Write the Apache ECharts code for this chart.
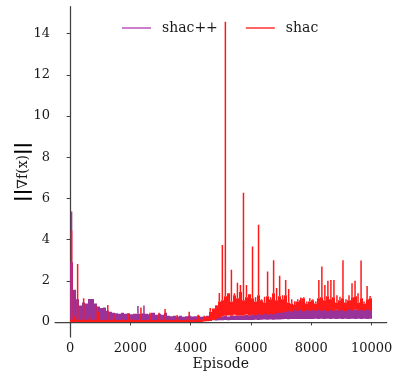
<!DOCTYPE html>
<html>
<head>
<meta charset="utf-8">
<script src="https://cdn.jsdelivr.net/npm/echarts@6/dist/echarts.min.js"></script>
<style>html,body{margin:0;padding:0;background:#fff}#c{width:397px;height:373px}</style>
</head>
<body>
<div id="c"></div>
<script>
// Each bin covers 100 episodes: [i*100, i*100+100]
const episodeStep = 100;
const xTicks = [0, 2000, 4000, 6000, 8000, 10000];
const yTicks = [0, 2, 4, 6, 8, 10, 12, 14];

// shac (red): bottom of band, typical top of band, highest spike in bin
const shacLow = [
  0, 0, 0, 0, 0, 0, 0, 0, 0, 0,
  0, 0, 0, 0, 0, 0, 0, 0, 0, 0,
  0, 0, 0, 0, 0, 0, 0, 0, 0, 0,
  0, 0, 0, 0, 0, 0, 0, 0, 0, 0,
  0, 0, 0, 0, 0.02, 0.03, 0.05, 0.1, 0.15, 0.2,
  0.28, 0.3, 0.32, 0.3, 0.35, 0.3, 0.33, 0.3, 0.36, 0.32,
  0.35, 0.34, 0.38, 0.35, 0.4, 0.36, 0.4, 0.38, 0.42, 0.45,
  0.45, 0.5, 0.55, 0.5, 0.6, 0.55, 0.6, 0.52, 0.58, 0.55,
  0.6, 0.55, 0.62, 0.55, 0.6, 0.52, 0.58, 0.55, 0.6, 0.55,
  0.58, 0.52, 0.6, 0.55, 0.6, 0.55, 0.58, 0.55, 0.6, 0.55
];
const shacBand = [
  0.12, 0.12, 0.12, 0.1, 0.12, 0.1, 0.12, 0.1, 0.12, 0.1,
  0.1, 0.12, 0.1, 0.1, 0.12, 0.1, 0.1, 0.12, 0.1, 0.1,
  0.12, 0.1, 0.1, 0.12, 0.1, 0.1, 0.12, 0.1, 0.1, 0.12,
  0.1, 0.1, 0.12, 0.1, 0.1, 0.12, 0.1, 0.1, 0.12, 0.1,
  0.1, 0.12, 0.1, 0.12, 0.15, 0.25, 0.5, 0.65, 0.8, 1.0,
  1.05, 1.25, 1.4, 1.0, 1.3, 1.15, 1.45, 1.05, 1.2, 1.35,
  1.15, 1.0, 1.3, 1.05, 0.95, 1.25, 1.1, 1.4, 1.05, 1.25,
  1.1, 1.3, 0.95, 0.9, 0.85, 1.0, 1.05, 1.15, 0.9, 1.0,
  1.05, 0.9, 1.15, 1.2, 1.05, 1.25, 1.1, 1.2, 0.95, 1.05,
  1.15, 0.95, 1.05, 1.2, 1.25, 0.95, 1.15, 0.9, 1.1, 1.15
];
const shacPeak = [
  4.44, 0.3, 2.82, 0.1, 1.15, 0.1, 0.3, 0.1, 0.78, 0.5,
  0.1, 0.12, 0.83, 0.1, 0.4, 0.1, 0.1, 0.12, 0.1, 0.4,
  0.12, 0.1, 0.1, 0.7, 0.1, 0.1, 0.45, 0.1, 0.1, 0.45,
  0.1, 0.63, 0.12, 0.1, 0.1, 0.34, 0.1, 0.1, 0.12, 0.5,
  0.1, 0.12, 0.35, 0.12, 0.3, 0.25, 0.68, 0.65, 0.83, 1.41,
  3.74, 14.58, 1.4, 2.53, 1.4, 1.9, 1.8, 6.27, 1.8, 1.35,
  3.66, 1.2, 4.72, 1.1, 1.23, 2.45, 1.2, 3.0, 1.65, 2.24,
  1.3, 2.04, 1.6, 1.1, 0.99, 1.1, 1.17, 1.2, 1.0, 1.15,
  1.1, 1.0, 2.04, 2.69, 1.8, 2.0, 2.04, 2.04, 1.3, 1.23,
  3.0, 1.1, 1.3, 1.88, 2.0, 1.4, 2.98, 1.0, 1.75, 1.26
];

// shac++ (purple)
const shacppLow = [
  0.05, 0.05, 0.06, 0.05, 0.06, 0.05, 0.06, 0.05, 0.06, 0.05,
  0.06, 0.05, 0.06, 0.05, 0.06, 0.05, 0.06, 0.05, 0.06, 0.05,
  0.06, 0.05, 0.06, 0.05, 0.06, 0.05, 0.06, 0.05, 0.06, 0.05,
  0.06, 0.05, 0.06, 0.05, 0.06, 0.05, 0.06, 0.05, 0.06, 0.05,
  0.07, 0.08, 0.07, 0.08, 0.07, 0.08, 0.07, 0.08, 0.07, 0.08,
  0.08, 0.09, 0.08, 0.09, 0.1, 0.09, 0.1, 0.09, 0.1, 0.1,
  0.1, 0.11, 0.1, 0.11, 0.12, 0.11, 0.12, 0.11, 0.12, 0.12,
  0.13, 0.14, 0.13, 0.14, 0.15, 0.14, 0.15, 0.14, 0.15, 0.15,
  0.15, 0.16, 0.15, 0.16, 0.15, 0.16, 0.15, 0.16, 0.15, 0.16,
  0.15, 0.16, 0.15, 0.16, 0.15, 0.16, 0.15, 0.16, 0.15, 0.16
];
const shacppBand = [
  2.9, 1.56, 1.1, 0.8, 0.95, 0.9, 1.12, 1.12, 0.9, 0.75,
  0.68, 0.7, 0.55, 0.5, 0.45, 0.42, 0.4, 0.45, 0.4, 0.42,
  0.38, 0.4, 0.4, 0.4, 0.42, 0.4, 0.38, 0.45, 0.35, 0.4,
  0.35, 0.45, 0.3, 0.28, 0.3, 0.27, 0.3, 0.25, 0.28, 0.3,
  0.26, 0.28, 0.3, 0.25, 0.27, 0.3, 0.26, 0.28, 0.25, 0.3,
  0.28, 0.3, 0.27, 0.3, 0.32, 0.3, 0.33, 0.3, 0.35, 0.33,
  0.38, 0.4, 0.42, 0.45, 0.5, 0.48, 0.55, 0.6, 0.58, 0.65,
  0.62, 0.7, 0.68, 0.75, 0.75, 0.8, 0.75, 0.7, 0.72, 0.65,
  0.7, 0.62, 0.68, 0.65, 0.7, 0.6, 0.68, 0.65, 0.62, 0.7,
  0.6, 0.68, 0.65, 0.7, 0.62, 0.66, 0.6, 0.68, 0.65, 0.7
];
const shacppPeak = [
  5.36, 1.56, 1.1, 0.8, 0.95, 0.9, 1.12, 1.12, 0.9, 0.75,
  0.68, 0.7, 0.55, 0.5, 0.45, 0.42, 0.4, 0.45, 0.4, 0.42,
  0.38, 0.4, 0.78, 0.4, 0.8, 0.4, 0.38, 0.45, 0.35, 0.4,
  0.35, 0.45, 0.3, 0.28, 0.3, 0.27, 0.3, 0.25, 0.28, 0.3,
  0.26, 0.28, 0.3, 0.25, 0.27, 0.3, 0.26, 0.28, 0.25, 0.3,
  0.28, 0.3, 0.27, 0.3, 0.32, 0.3, 0.33, 0.3, 0.35, 0.33,
  0.38, 0.4, 0.42, 0.45, 0.5, 0.48, 0.55, 0.6, 0.58, 0.65,
  0.62, 0.7, 0.68, 0.75, 0.99, 0.8, 1.18, 0.7, 0.72, 0.65,
  0.7, 0.62, 0.68, 0.65, 0.7, 0.6, 0.68, 0.65, 0.62, 0.7,
  0.6, 0.68, 0.65, 0.7, 0.62, 0.66, 0.6, 0.68, 0.65, 0.7
];

function rows(low, band, peak) {
  return low.map((l, i) => [i * episodeStep, (i + 1) * episodeStep, l, band[i], peak[i]]);
}

function makeRender(color) {
  return function (params, api) {
    const a = api.coord([api.value(0), api.value(2)]);
    const b = api.coord([api.value(1), api.value(3)]);
    const x0 = Math.round(a[0]), x1 = Math.round(b[0]);
    const children = [{
      type: 'rect',
      shape: {x: x0, y: b[1], width: Math.max(1, x1 - x0), height: a[1] - b[1]},
      style: {fill: color}
    }];
    if (api.value(4) > api.value(3)) {
      const p = api.coord([(api.value(0) + api.value(1)) / 2, api.value(4)]);
      children.push({
        type: 'line',
        shape: {x1: p[0], y1: b[1], x2: p[0], y2: p[1]},
        style: {stroke: color, lineWidth: 1.5}
      });
    }
    return {type: 'group', children: children};
  };
}

const serif = 'DejaVu Serif';
const axisColor = '#404040';
const purple = '#993399';
const red = '#ff1a1a';
const chart = echarts.init(document.getElementById('c'), null, {renderer: 'canvas'});
chart.setOption({
  animation: false,
  backgroundColor: '#fff',
  grid: {left: 55, right: 10.3, top: 6.7, bottom: 36, containLabel: false, outerBoundsMode: 'none'},
  legend: {
    left: 117, top: 15,
    itemWidth: 29, itemHeight: 1.5, itemGap: 28,
    icon: 'rect',
    textStyle: {fontFamily: serif, fontSize: 14, color: '#1a1a1a', padding: [0, 0, 0, 6], lineHeight: 16},
    data: [
      {name: 'shac++', itemStyle: {color: '#bb55bb'}},
      {name: 'shac', itemStyle: {color: '#ff3333'}}
    ]
  },
  xAxis: {
    type: 'value', min: -500, max: 10500,
    name: 'Episode', nameLocation: 'middle', nameGap: 20, nameMoveOverlap: false,
    nameTextStyle: {fontFamily: serif, fontSize: 14, color: '#1a1a1a', verticalAlign: 'top'},
    axisLine: {show: true, lineStyle: {color: axisColor, width: 1.25}},
    axisTick: {show: true, length: 3.5, lineStyle: {color: axisColor}, customValues: xTicks},
    axisLabel: {fontFamily: serif, fontSize: 13, color: '#1a1a1a', margin: 5, customValues: xTicks, formatter: v => String(v)},
    splitLine: {show: false}
  },
  yAxis: {
    type: 'value', min: -0.73, max: 15.31,
    name: '{b|||}∇f(x){b|||}', nameLocation: 'middle', nameGap: 23, nameRotate: 90, nameMoveOverlap: false,
    nameTextStyle: {
      fontFamily: serif, fontSize: 14, color: '#1a1a1a',
      rich: {b: {fontFamily: 'DejaVu Sans', fontWeight: 'bold', fontSize: 18, color: '#000'}}
    },
    axisLine: {show: true, lineStyle: {color: axisColor, width: 1.25}},
    axisTick: {show: true, length: 3.5, lineStyle: {color: axisColor}, customValues: yTicks},
    axisLabel: {fontFamily: serif, fontSize: 13, color: '#1a1a1a', margin: 5, customValues: yTicks, formatter: v => String(v)},
    splitLine: {show: false}
  },
  series: [
    {
      name: 'shac++', type: 'custom', clip: true,
      renderItem: makeRender(purple),
      encode: {x: [0, 1], y: [2, 3, 4]},
      data: rows(shacppLow, shacppBand, shacppPeak),
      itemStyle: {color: purple},
      z: 2
    },
    {
      name: 'shac', type: 'custom', clip: true,
      renderItem: makeRender(red),
      encode: {x: [0, 1], y: [2, 3, 4]},
      data: rows(shacLow, shacBand, shacPeak),
      itemStyle: {color: red},
      z: 3
    }
  ]
});
</script>
</body>
</html>
